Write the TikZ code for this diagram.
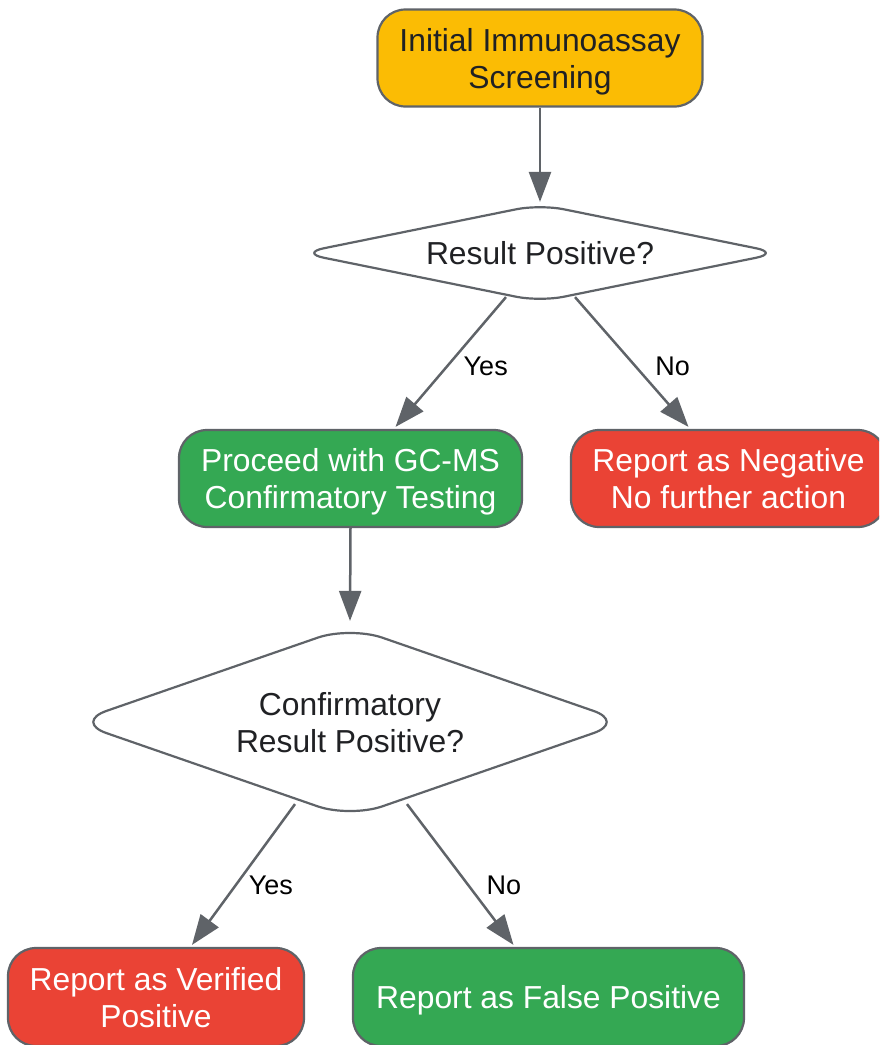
\documentclass[tikz,border=0pt]{standalone}
\usepackage{fontspec}
\setmainfont{Liberation Sans}
\usetikzlibrary{
    positioning,           % Relative positioning
    shapes.geometric,      % Diamond decisions
    arrows.meta,           % Modern arrow tips
    calc                   % Coordinate calculations
}
\definecolor{linegray}{HTML}{5F6368}
\definecolor{darktext}{HTML}{202124}
\definecolor{screenyellow}{HTML}{FBBC04}
\definecolor{passgreen}{HTML}{34A853}
\definecolor{failred}{HTML}{EA4335}
\tikzset{
    flowbox/.style={draw=linegray, line width=2.2pt, rounded corners=28pt,
        minimum height=97pt, align=center, inner sep=0pt, text depth=0pt,
        font=\fontsize{31.8}{37}\selectfont},
    decision/.style={diamond, draw=linegray, line width=2.2pt, fill=white,
        text=darktext, align=center, inner sep=0pt, text depth=0pt,
        font=\fontsize{31.8}{37}\selectfont},
    flowarrow/.style={draw=linegray, line width=2.5pt,
        -{Triangle[length=30pt,width=22pt]}},
    flowlabel/.style={font=\fontsize{27}{30}\selectfont, text=black,
        inner sep=0pt, anchor=west}
}
\begin{document}
\begin{tikzpicture}[x=1pt,y=-1pt]
    \useasboundingbox (0,0) rectangle (879,1045);
    \clip (0,0) rectangle (879,1045);
    % boxes and decisions
    \node[flowbox, fill=screenyellow, text=darktext, minimum width=325pt] (screen) at (540,58) {Initial Immunoassay\\Screening};
    \node[decision, aspect=4.9, minimum width=480pt, minimum height=98pt, rounded corners=24pt] (check) at (540,253) {Result Positive?};
    \node[flowbox, fill=passgreen, text=white, minimum width=343pt] (gcms) at (350.5,478.5) {Proceed with GC-MS\\Confirmatory Testing};
    \node[flowbox, fill=failred, text=white, minimum width=315pt] (negative) at (728.5,478.5) {Report as Negative\\No further action};
    \node[decision, aspect=2.9, minimum width=552pt, minimum height=192pt, rounded corners=34pt] (confirm) at (350,722) {Confirmatory\\Result Positive?};
    \node[flowbox, fill=failred, text=white, minimum width=296pt, minimum height=98pt] (verified) at (156,997) {Report as Verified\\Positive};
    \node[flowbox, fill=passgreen, text=white, minimum width=391pt, minimum height=98pt] (falsepos) at (548.5,997) {Report as False Positive};
    % connectors
    \draw[flowarrow] (screen.south) -- ([yshift=1pt]check.north);
    \draw[flowarrow] ([xshift=-34pt,yshift=6pt]check.south) -- ([xshift=45pt,yshift=2pt]gcms.north)
        node[flowlabel, pos=0.53, xshift=15pt] (yesone) {Yes};
    \draw[flowarrow] ([xshift=35pt,yshift=6pt]check.south) -- ([xshift=-40pt,yshift=2pt]negative.north)
        node[flowlabel, pos=0.53, xshift=19pt] (noone) {No};
    \draw[flowarrow] (gcms.south) -- ([yshift=4pt]confirm.north);
    \draw[flowarrow] ([xshift=-55pt,yshift=15pt]confirm.south) -- ([xshift=36pt,yshift=2pt]verified.north)
        node[flowlabel, pos=0.576, xshift=12pt] (yestwo) {Yes};
    \draw[flowarrow] ([xshift=57pt,yshift=15pt]confirm.south) -- ([xshift=-35pt,yshift=2pt]falsepos.north)
        node[flowlabel, pos=0.576, xshift=17pt] (notwo) {No};
\end{tikzpicture}
\end{document}
